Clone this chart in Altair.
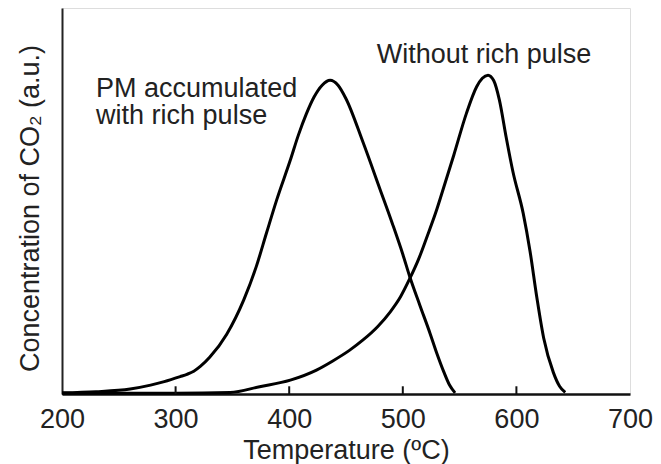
import altair as alt
import pandas as pd

# Curve: PM accumulated with rich pulse
temp_pm = [200, 230, 260, 278, 290, 304, 310, 316, 322, 330, 345, 360, 371, 380, 389, 401,
           408, 415, 422, 429, 436, 443, 450, 465, 480, 491, 500, 506, 515, 524, 530, 536, 541, 546]
conc_pm = [0.003, 0.006, 0.013, 0.023, 0.032, 0.045, 0.051, 0.059, 0.072, 0.095, 0.155,
           0.244, 0.33, 0.417, 0.503, 0.606, 0.67, 0.725, 0.77, 0.80, 0.813, 0.80, 0.765,
           0.652, 0.53, 0.44, 0.362, 0.305, 0.23, 0.157, 0.105, 0.058, 0.024, 0.003]

# Curve: Without rich pulse
temp_wo = [200, 300, 348, 374, 401, 424, 438, 453, 465, 478, 489, 498, 506, 514, 521, 529,
           536, 545, 556, 565, 570, 575, 580, 585, 591, 597, 606, 612, 618, 624, 632.5, 638, 643]
conc_wo = [0.002, 0.002, 0.004, 0.019, 0.036, 0.062, 0.085, 0.113, 0.14, 0.175, 0.213,
           0.252, 0.298, 0.35, 0.405, 0.47, 0.535, 0.62, 0.727, 0.796, 0.818, 0.826,
           0.812, 0.762, 0.665, 0.575, 0.468, 0.37, 0.25, 0.145, 0.056, 0.02, 0.004]

x_ticks = [200, 300, 400, 500, 600, 700]
inner_ticks = [300, 400, 500, 600]

label_text = [["PM accumulated", "with rich pulse"], ["Without rich pulse"]]
label_temp = [230, 477]
label_conc = [0.769, 0.857]

FONT = "Liberation Sans"
FS = 27

df = pd.concat([
    pd.DataFrame({"temp": temp_pm, "conc": conc_pm, "series": "PM accumulated with rich pulse"}),
    pd.DataFrame({"temp": temp_wo, "conc": conc_wo, "series": "Without rich pulse"}),
])
labels = pd.DataFrame({"text": label_text, "temp": label_temp, "conc": label_conc})
ticks = pd.DataFrame({"temp": inner_ticks, "y0": 0.0, "y1": 0.02})

xscale = alt.Scale(domain=[200, 700], nice=False, zero=False)
yscale = alt.Scale(domain=[0, 1], nice=False)

lines = alt.Chart(df).mark_line(
    color="black", strokeWidth=3, interpolate="monotone"
).encode(
    x=alt.X("temp:Q", scale=xscale, axis=alt.Axis(
        values=x_ticks, title="Temperature (ºC)", ticks=False, grid=False,
        domain=True, domainColor="#111", domainWidth=2.5,
        labelFont=FONT, labelFontSize=FS, labelColor="#222", labelPadding=12,
        labelFlush=False,
        titleFont=FONT, titleFontSize=FS, titleFontWeight="normal", titleColor="#222",
        titleBaseline="alphabetic", titleY=64)),
    y=alt.Y("conc:Q", scale=yscale, axis=alt.Axis(
        labels=False, ticks=False, grid=False, domain=True,
        domainColor="#222", domainWidth=2,
        title="Concentration of CO₂ (a.u.)",
        titleFont=FONT, titleFontSize=FS, titleFontWeight="normal", titleColor="#222",
        titleAngle=270, titleBaseline="alphabetic", titleAlign="center",
        titleX=-24, titleY=200)),
    detail="series:N",
)

tick_marks = alt.Chart(ticks).mark_rule(color="#111", strokeWidth=2).encode(
    x=alt.X("temp:Q", scale=xscale),
    y=alt.Y("y0:Q", scale=yscale),
    y2="y1:Q",
)

text = alt.Chart(labels).mark_text(
    align="left", baseline="alphabetic", font=FONT, fontSize=FS, color="#222",
    lineHeight=27,
).encode(
    x=alt.X("temp:Q", scale=xscale),
    y=alt.Y("conc:Q", scale=yscale),
    text="text",
)

chart = alt.layer(lines, tick_marks, text).properties(
    width=568, height=386,
    autosize=alt.AutoSizeParams(type="none"),
    padding={"left": 62, "top": 8, "right": 31, "bottom": 70},
).configure_view(
    stroke="#222", strokeWidth=2
).configure(background="white")

chart.save("out.html", embed_options={"renderer": "svg", "actions": False})
